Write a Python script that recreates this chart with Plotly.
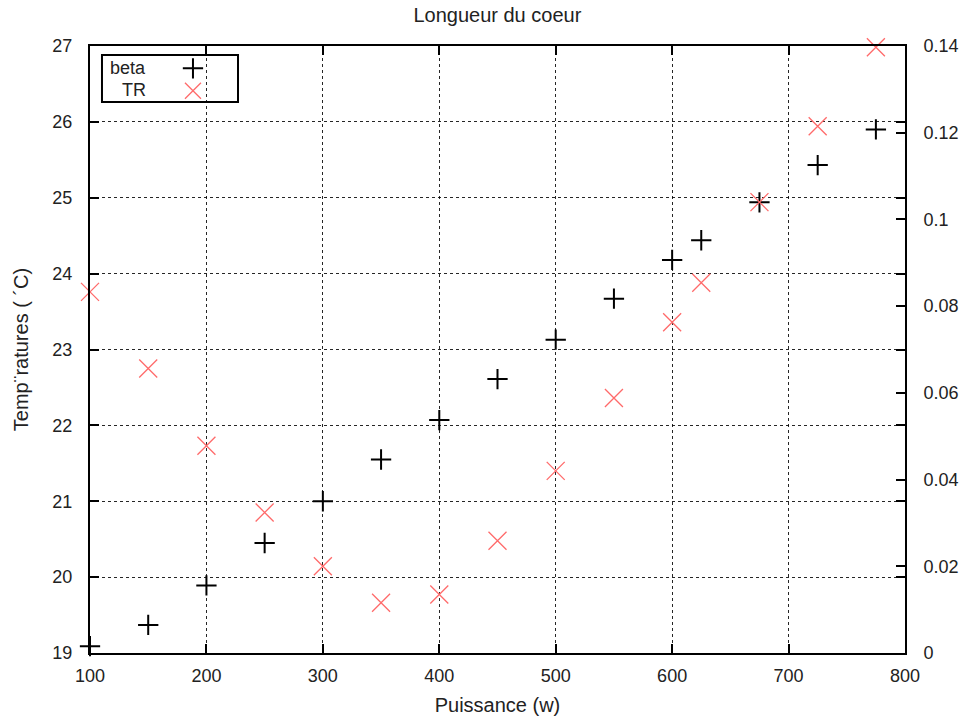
import plotly.graph_objects as go

# Data
puissance = [100, 150, 200, 250, 300, 350, 400, 450, 500, 550, 600, 625, 675, 725, 775]
beta = [19.09, 19.37, 19.89, 20.45, 21.00, 21.55, 22.07, 22.61, 23.13, 23.67, 24.18, 24.44, 24.94, 25.43, 25.90]
tr = [0.0833, 0.0656, 0.0478, 0.0324, 0.0200, 0.0116, 0.0135, 0.0259, 0.0420, 0.0588, 0.0763, 0.0854, 0.1040, 0.1215, 0.1397]

x_ticks = [100, 200, 300, 400, 500, 600, 700, 800]
y_ticks = [19, 20, 21, 22, 23, 24, 25, 26, 27]
y2_ticks = [0, 0.02, 0.04, 0.06, 0.08, 0.1, 0.12, 0.14]
y2_ticktext = ["0", "0.02", "0.04", "0.06", "0.08", "0.1", "0.12", "0.14"]

FONT = "Liberation Sans, Arial, sans-serif"
TICKSIZE = 18
TITLESIZE = 20
TXT = "#222"

fig = go.Figure()
fig.add_trace(go.Scatter(
    x=puissance, y=beta, mode="markers", name="beta", cliponaxis=False,
    marker=dict(symbol="cross-thin", size=14.5, line=dict(color="black", width=2)),
))
fig.add_trace(go.Scatter(
    x=puissance, y=tr, mode="markers", name="TR", yaxis="y2", cliponaxis=False,
    marker=dict(symbol="x-thin", size=18, line=dict(color="#ff6a6a", width=1.3)),
))

axis_common = dict(
    showline=True, linecolor="black", linewidth=2,
    ticks="inside", ticklen=9, tickwidth=2, tickcolor="black",
    tickfont=dict(family=FONT, size=TICKSIZE, color=TXT),
    zeroline=False,
)

fig.update_layout(
    width=963, height=717,
    margin=dict(l=90, r=58, t=46, b=64, autoexpand=False),
    paper_bgcolor="white", plot_bgcolor="white",
    font=dict(family=FONT, size=TICKSIZE, color=TXT),
    title=dict(text="Longueur du coeur", x=0.5165, xanchor="center", y=0.9895, yanchor="top",
               pad=dict(t=0, b=0),
               font=dict(family=FONT, size=TITLESIZE, color=TXT)),
    xaxis=dict(
        range=[100, 800], tickvals=x_ticks, mirror="all",
        showgrid=True, gridcolor="rgba(0,0,0,0.85)", griddash="dot", gridwidth=1,
        ticklabelstandoff=5,
        title=dict(text="Puissance (w)", font=dict(family=FONT, size=TITLESIZE, color=TXT), standoff=13),
        **axis_common,
    ),
    yaxis=dict(
        range=[19, 27], tickvals=y_ticks, mirror="all",
        showgrid=True, gridcolor="rgba(0,0,0,0.85)", griddash="dot", gridwidth=1,
        ticklabelstandoff=12,
        title=dict(text="Temp¨ratures ( ´C)", font=dict(family=FONT, size=TITLESIZE, color=TXT), standoff=18),
        **axis_common,
    ),
    yaxis2=dict(
        range=[0, 0.14], tickvals=y2_ticks, ticktext=y2_ticktext,
        overlaying="y", side="right", showgrid=False,
        ticklabelstandoff=13,
        **axis_common,
    ),
    showlegend=True,
    legend=dict(
        x=0.1018, y=0.990, xanchor="left", yanchor="top",
        bgcolor="rgba(0,0,0,0)", borderwidth=0,
        font=dict(family=FONT, size=15, color="rgba(0,0,0,0)"),
        tracegroupgap=0,
    ),
    shapes=[dict(
        type="rect", xref="paper", yref="paper",
        x0=0.0147, x1=0.1816, y0=0.9077, y1=0.9852,
        line=dict(color="black", width=2), fillcolor="white", layer="below",
    )],
    annotations=[
        dict(text="beta", xref="paper", yref="paper", x=0.071, y=0.9638,
             xanchor="right", yanchor="middle", showarrow=False,
             font=dict(family=FONT, size=TICKSIZE, color=TXT)),
        dict(text="TR", xref="paper", yref="paper", x=0.071, y=0.9276,
             xanchor="right", yanchor="middle", showarrow=False,
             font=dict(family=FONT, size=TICKSIZE, color=TXT)),
    ],
)

fig.write_html(
    "out.html",
    config={"displayModeBar": False},
    post_script=(
        "document.body.style.margin='0';"
        "document.body.style.overflow='hidden';"
        "document.documentElement.style.overflow='hidden';"
    ),
)
